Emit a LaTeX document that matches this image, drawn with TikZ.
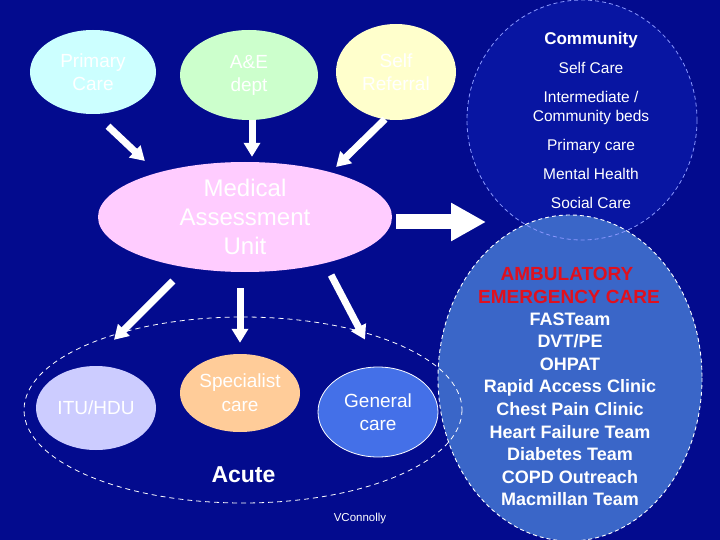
\documentclass[tikz,border=0pt]{standalone}
\usepackage{fontspec}
\setmainfont{Liberation Sans}
\usetikzlibrary{shapes.geometric,arrows.meta}

\definecolor{bgblue}{HTML}{030B8E}
\definecolor{commblue}{HTML}{0815A2}
\definecolor{commline}{HTML}{8A98FF}
\definecolor{ambblue}{HTML}{3A66C8}
\definecolor{genblue}{HTML}{4470E8}
\definecolor{pccyan}{HTML}{CCFFFF}
\definecolor{aegreen}{HTML}{CCFFCC}
\definecolor{sryellow}{HTML}{FFFFCC}
\definecolor{maupink}{HTML}{FFCCFF}
\definecolor{itulilac}{HTML}{CCCCFF}
\definecolor{scorange}{HTML}{FFCC99}
\definecolor{ambred}{HTML}{E0101E}

\begin{document}
\begin{tikzpicture}[x=1pt,y=-1pt,
  oval/.style={ellipse,inner sep=0pt,text=white,align=center,
    font=\fontsize{19}{23}\selectfont},
  arr/.style={white,line width=7pt,-{Triangle[width=16pt,length=14pt]}},
  bigarr/.style={white,line width=15pt,-{Triangle[width=36pt,length=35pt]}},
  commtxt/.style={white,anchor=base,font=\fontsize{15.5}{19}\selectfont},
  listtxt/.style={white,anchor=base,font=\fontsize{18}{22}\selectfont\bfseries},
  ambtxt/.style={ambred,anchor=base,font=\fontsize{19}{23}\selectfont\bfseries}]
\useasboundingbox (0,0) rectangle (720,540);
\fill[bgblue] (0,0) rectangle (720,540);

% community and ambulatory areas
\node[ellipse,fill=commblue,minimum width=230,minimum height=240] (comm) at (582,120) {};
\node[ellipse,fill=ambblue,minimum width=264,minimum height=326] (amb) at (570,378) {};
\draw[commline,line width=0.8pt,dash pattern=on 4pt off 3pt] (582,120) ellipse (115 and 120);
\draw[white,line width=0.9pt,dash pattern=on 4pt off 3pt] (570,378) ellipse (132 and 163);
\draw[white,line width=0.8pt,dash pattern=on 5pt off 4pt] (243,410) ellipse (219 and 93);

% entry points
\node[oval,fill=pccyan,minimum width=126,minimum height=84] (pc) at (93,72) {Primary\\Care};
\node[oval,fill=aegreen,minimum width=138,minimum height=90] (ae) at (249,75) {A\&E\\dept};
\node[oval,fill=sryellow,minimum width=120,minimum height=96] (sr) at (396,72) {Self\\Referral};
\node[oval,fill=maupink,minimum width=294,minimum height=110,
  font=\fontsize{24}{29}\selectfont] (mau) at (245,217) {Medical\\Assessment\\Unit};

% acute services
\node[oval,fill=itulilac,minimum width=120,minimum height=84] (itu) at (96,408) {ITU/HDU};
\node[oval,fill=scorange,minimum width=120,minimum height=78,
  font=\fontsize{19}{24}\selectfont] (sc) at (240,393) {Specialist\\care};
\node[oval,fill=genblue,draw=white,line width=0.8pt,minimum width=120,minimum height=90] (gc) at (378,412) {General\\care};
\node[white,anchor=base,font=\fontsize{23}{27}\selectfont\bfseries] (acute) at (243.5,482) {Acute};

% arrows
\draw[arr] ([shift={(15,12)}]pc.south) -- ([shift={(4,-17)}]mau.north west);
\draw[arr] ([shift={(3,0)}]ae.south) -- ([shift={(7,-5)}]mau.north);
\draw[arr] ([shift={(-11,-1)}]sr.south) -- ([shift={(-13,-11)}]mau.north east);
\draw[arr] ([shift={(32,25)}]mau.south west) -- ([shift={(18,-26)}]itu.north);
\draw[arr] ([shift={(-5,16)}]mau.south) -- ([shift={(0,-11)}]sc.north);
\draw[arr] ([shift={(-18,19)}]mau.south east) -- ([shift={(-13,-27)}]gc.north);
\coordinate (split) at (486,222);
\draw[bigarr] ([shift={(4,5)}]mau.east) -- (split);

% community list
\node[white,anchor=base,font=\fontsize{17}{20}\selectfont\bfseries] (commhead) at (591,45) {Community};
\node[commtxt] (selfcare) at (591,74) {Self Care};
\node[commtxt] (interm) at (591,103) {Intermediate /};
\node[commtxt] (commbeds) at (591,122) {Community beds};
\node[commtxt] (primcare) at (591,151) {Primary care};
\node[commtxt] (mental) at (591,180) {Mental Health};
\node[commtxt] (social) at (591,208) {Social Care};

% ambulatory list
\node[ambtxt] (ambhead) at (567,280) {AMBULATORY};
\node[ambtxt] (emerg) at (569,303) {EMERGENCY CARE};
\foreach \t [count=\i] in {FASTeam,DVT/PE,OHPAT,Rapid Access Clinic,Chest Pain Clinic,
  Heart Failure Team,Diabetes Team,COPD Outreach,Macmillan Team}
  \node[listtxt] (team\i) at (570,{325+22.6*(\i-1)}) {\t};

\node[white,anchor=base,font=\fontsize{11.5}{14}\selectfont] (author) at (360,521) {VConnolly};
\end{tikzpicture}
\end{document}
